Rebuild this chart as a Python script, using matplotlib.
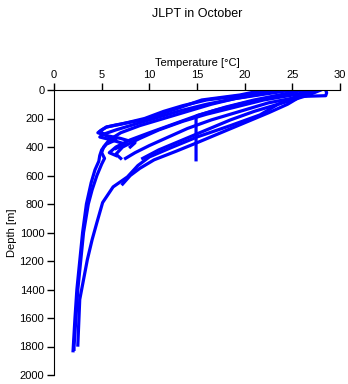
import matplotlib
matplotlib.use("Agg")
import matplotlib.pyplot as plt

plt.rcParams['font.family'] = ['Liberation Sans', 'DejaVu Sans']

# Profiles: depth [m] and temperature [°C]
pa_d = [0, 20, 40, 70, 110, 150, 200, 240, 260, 290, 320, 350, 380, 420, 460, 500, 560, 650, 800, 1000, 1200, 1400, 1600, 1830]
pa_t = [23, 21, 19.5, 16, 13.5, 11.5, 9.5, 7, 5.5, 4.8, 5.5, 6.5, 5.5, 5, 4.8, 4.7, 4.3, 3.9, 3.4, 3.0, 2.7, 2.4, 2.2, 2.0]
pb_d = [0, 30, 60, 100, 150, 200, 250, 300, 350, 400, 440, 480, 520, 600, 700, 800, 1000, 1200, 1400, 1600, 1800, 1820]
pb_t = [25, 22, 19, 16.5, 14, 11.5, 9, 7, 5.8, 5.2, 5.0, 5.3, 5.0, 4.5, 4.0, 3.6, 3.1, 2.8, 2.5, 2.3, 2.1, 2.1]
pc_d = [0, 35, 100, 175, 250, 330, 407, 470, 530, 610, 680, 790, 930, 1050, 1190, 1470, 1790]
pc_t = [26.5, 25.8, 23.5, 21.6, 18.5, 15, 12.2, 10, 8.8, 7.7, 6.2, 5.1, 4.5, 4.0, 3.5, 2.7, 2.5]
pd_d = [0, 40, 100, 160, 230, 300, 370, 430, 490, 550, 600, 660]
pd_t = [27.5, 26, 24.5, 22.5, 20, 17.5, 15, 12.8, 10.5, 9, 8, 7.2]
pe_d = [0, 40, 90, 150, 210, 280, 350, 420, 480]
pe_t = [28, 26.5, 24, 21, 18.5, 16, 13.5, 11, 9.3]
pf_d = [0, 40, 90, 140, 180, 200, 490]
pf_t = [26, 24, 20, 17, 15, 14.9, 14.9]
pg_d = [0, 20, 40, 45, 90, 150, 210, 270, 330, 390, 440, 480]
pg_t = [28.5, 28.6, 28.5, 26, 22.5, 19.5, 16.5, 14, 12, 10, 8.5, 7.5]
ph_d = [0, 30, 70, 120, 180, 240, 300, 350, 400, 440, 460]
ph_t = [26, 24, 21, 18, 15, 12.5, 10, 8, 6.5, 5.8, 6.5]
pi_d = [0, 25, 60, 100, 150, 200, 240, 280, 310, 330, 350, 380, 410]
pi_t = [24, 22, 19, 16, 13, 10.5, 8.5, 6.5, 5.2, 4.8, 6, 7.5, 6.5]
pj_d = [0, 35, 70, 140, 210, 245, 260, 280, 300, 320, 340, 370, 400]
pj_t = [22, 19.5, 15.5, 12.5, 9.3, 6.5, 5.5, 5, 4.6, 5.5, 7, 8.5, 8]
pk_d = [0, 30, 70, 120, 170, 220, 280, 340, 400, 450, 480]
pk_t = [27, 25.5, 22, 19, 16, 13.5, 11, 9, 7.2, 6.5, 7]

profiles = [(pa_t, pa_d), (pb_t, pb_d), (pc_t, pc_d), (pd_t, pd_d), (pe_t, pe_d),
            (pf_t, pf_d), (pg_t, pg_d), (ph_t, ph_d), (pi_t, pi_d), (pj_t, pj_d),
            (pk_t, pk_d)]

x_ticks = [0, 5, 10, 15, 20, 25, 30]
y_ticks = [0, 200, 400, 600, 800, 1000, 1200, 1400, 1600, 1800, 2000]

fig = plt.figure(figsize=(3.48, 3.84), dpi=100)
ax = fig.add_axes([54/348, 1-375/384, (340-54)/348, (375-90)/384])

for t, d in profiles:
    ax.plot(t, d, color='#0000ff', lw=2.3, solid_joinstyle='round')

ax.set_xlim(0, 30)
ax.set_ylim(2000, 0)
ax.set_xticks(x_ticks)
ax.set_yticks(y_ticks)
ax.xaxis.set_ticks_position('top')
ax.xaxis.set_label_position('top')
ax.spines['right'].set_visible(False)
ax.spines['bottom'].set_visible(False)
ax.tick_params(direction='out', length=5, width=1, labelsize=8, pad=2)
ax.set_xlabel('Temperature [°C]', fontsize=8, labelpad=3)
ax.set_ylabel('Depth [m]', fontsize=8, labelpad=2)
fig.text(197/348, 1-8/384, 'JLPT in October', ha='center', va='top', fontsize=9)

fig.savefig('out.png', dpi=100)
